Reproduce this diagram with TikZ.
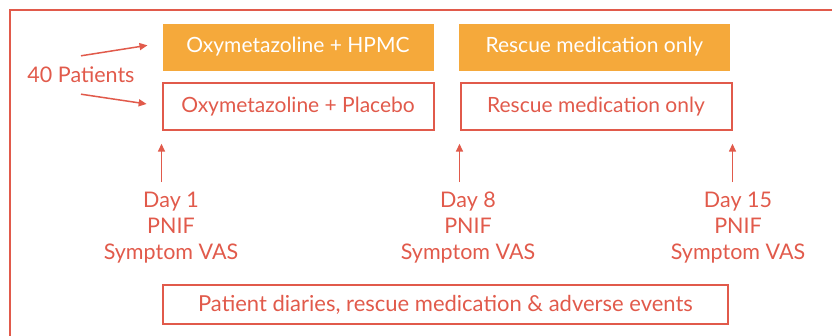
\documentclass[tikz,border=0pt]{standalone}
\usepackage{fontspec}
\setmainfont{Lato}
\usetikzlibrary{arrows.meta,positioning}
\definecolor{accentred}{HTML}{E15A4B}
\definecolor{accentorange}{HTML}{F5A93B}

\begin{document}
\begin{tikzpicture}[x=1pt,y=-1pt,
  node distance=11pt and 25pt,
  armbox/.style={rectangle,minimum width=271pt,minimum height=47pt,inner sep=0pt,
    font=\fontsize{21}{25}\selectfont},
  fillbox/.style={armbox,fill=accentorange,text=white},
  linebox/.style={armbox,draw=accentred,line width=2pt,text=accentred},
  daylabel/.style={align=center,text=accentred,inner xsep=0pt,inner ysep=10pt,
    font=\fontsize{21.5}{26}\selectfont},
  arrow/.style={-{Triangle[length=8pt,width=7pt]},line width=1.5pt,accentred},
]
\useasboundingbox (0,0) rectangle (832,335);
\clip (0,0) rectangle (832,335);

% Outer frame
\draw[accentred,line width=2pt] (10,10) rectangle (860,360);

% Treatment arms
\node[fillbox] (hpmc) at (298,47) {Oxymetazoline + HPMC};
\node[linebox,below=of hpmc] (placebo) {Oxymetazoline + Placebo};
\node[fillbox,right=of hpmc] (rescueA) {Rescue medication only};
\node[linebox,right=of placebo] (rescueB) {Rescue medication only};

% Randomisation
\node[text=accentred,font=\fontsize{21.5}{25}\selectfont,minimum height=38pt,inner sep=0pt]
  (patients) at (81,75) {40 Patients};
\draw[arrow,shorten >=15pt] (patients.north) -- ([yshift=4pt]hpmc.west);
\draw[arrow,shorten >=15pt] (patients.south) -- (placebo.west);

% Visits
\node[daylabel] (day1) at (171,228) {Day 1\\PNIF\\Symptom VAS};
\node[daylabel] (day8) at (468,228) {Day 8\\PNIF\\Symptom VAS};
\node[daylabel] (day15) at (738,228) {Day 15\\PNIF\\Symptom VAS};
\draw[arrow,shorten >=13pt] (day1.north -| placebo.south west) -- (placebo.south west);
\draw[arrow,shorten >=13pt] (day8.north -| rescueB.south west) -- (rescueB.south west);
\draw[arrow,shorten >=13pt] (day15.north -| rescueB.south east) -- (rescueB.south east);

% Ongoing recording
\node[linebox,minimum width=565pt,minimum height=39pt,font=\fontsize{22}{25}\selectfont]
  (diary) at (445.5,304.5) {Patient diaries, rescue medication \& adverse events};

\end{tikzpicture}
\end{document}
